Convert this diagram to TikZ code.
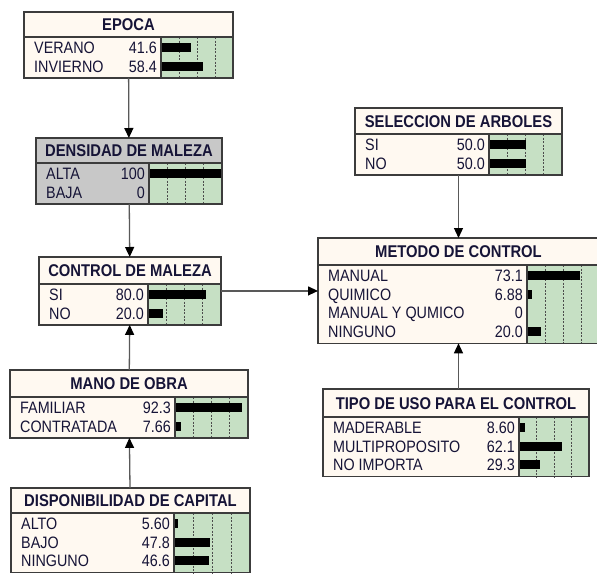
\documentclass[tikz,border=0pt]{standalone}
\usepackage{fontspec}
\setmainfont{Liberation Sans}[FakeStretch=0.87]
\usetikzlibrary{arrows.meta}

\definecolor{cream}{RGB}{255,249,241}
\definecolor{densgray}{RGB}{200,200,200}
\definecolor{bargreen}{RGB}{198,224,196}
\definecolor{framegray}{RGB}{60,60,60}
\definecolor{ink}{RGB}{22,20,55}

\tikzset{
  bnframe/.style={draw=framegray, line width=1.3pt},
  bntitle/.style={font=\fontsize{17}{19}\selectfont\bfseries, text=ink, inner sep=0pt},
  bnstate/.style={font=\fontsize{16.5}{18}\selectfont, text=ink, inner sep=0pt},
  bntick/.style={draw=black!70, line width=0.8pt, dash pattern=on 2pt off 1.5pt},
  bnlink/.style={draw=black!65, line width=1.3pt, -{Triangle[length=10pt,width=9pt,color=black]}},
}

% #1 fill, #2 name, #3 left, #4 top, #5 right, #6 bars start, #7 title height, #8 title, #9 states
\newcommand{\bnnode}[9][cream]{%
  \foreach \s [count=\n] in {#9} {\xdef\nstates{\n}}
  \pgfmathsetmacro{\tbot}{#4+#7}
  \pgfmathsetmacro{\bbot}{\tbot+18.7*\nstates+3.5}
  \pgfmathsetmacro{\bwid}{#5-#3}
  \pgfmathsetmacro{\bhei}{\bbot-#4}
  \fill[#1] (#3,#4) rectangle (#5,\bbot);
  \fill[bargreen] (#6,\tbot) rectangle (#5,\bbot);
  \foreach \t in {0.25,0.5,0.75}
    \draw[bntick] ({#6+(#5-#6)*\t},\tbot) -- ({#6+(#5-#6)*\t},\bbot);
  \foreach \lab/\val [count=\i] in {#9} {
    \pgfmathsetmacro{\yc}{\tbot+10.5+18.7*(\i-1)}
    \node[bnstate, anchor=base west] at ({#3+10},{\yc+5.8}) {\lab};
    \node[bnstate, anchor=base east] at ({#6-4},{\yc+5.8}) {\val};
    \fill ({#6},{\yc-4.5}) rectangle ({#6+(#5-#6)*\val/100},{\yc+4.5});
  }
  \node[bntitle, anchor=base] at ({(#3+#5)/2},{#4+#7/2+6.2}) {#8};
  \draw[bnframe] (#3,\tbot) -- (#5,\tbot) (#6,\tbot) -- (#6,\bbot);
  \node[bnframe, anchor=north west, outer sep=0pt, inner sep=0pt,
        minimum width=\bwid pt, minimum height=\bhei pt] (#2) at (#3,#4) {};
}

\begin{document}
\begin{tikzpicture}[x=1pt, y=-1pt]
\clip (0,0) rectangle (597,573);
\fill[white] (0,0) rectangle (597,573);

% Nodes
\bnnode{epoca}{24}{12}{233}{161}{25}{EPOCA}{VERANO/41.6, INVIERNO/58.4}
\bnnode[densgray]{densidad}{36}{138}{222}{149}{25}{DENSIDAD DE MALEZA}{ALTA/100, BAJA/0}
\bnnode{control}{39}{257}{221}{148}{27}{CONTROL DE MALEZA}{SI/80.0, NO/20.0}
\bnnode{mano}{10}{370}{248}{175}{27}{MANO DE OBRA}{FAMILIAR/92.3, CONTRATADA/7.66}
\bnnode{capital}{11}{488}{250}{174}{25}{DISPONIBILIDAD DE CAPITAL}{ALTO/5.60, BAJO/47.8, NINGUNO/46.6}
\bnnode{seleccion}{355}{108}{562}{489}{26}{SELECCION DE ARBOLES}{SI/50.0, NO/50.0}
\bnnode{metodo}{318}{238}{599}{527}{27}{METODO DE CONTROL}{MANUAL/73.1, QUIMICO/6.88, MANUAL Y QUMICO/0, NINGUNO/20.0}
\bnnode{tipo}{323}{389}{589}{519}{28}{TIPO DE USO PARA EL CONTROL}{MADERABLE/8.60, MULTIPROPOSITO/62.1, NO IMPORTA/29.3}

% Links
\draw[bnlink] (epoca) -- (densidad);
\draw[bnlink] (densidad) -- (control);
\draw[bnlink] (mano) -- (control);
\draw[bnlink] (capital) -- (mano);
\draw[bnlink] (control.east) -- (control.east -| metodo.west);
\draw[bnlink] (seleccion) -- (metodo);
\draw[bnlink] (tipo.north -| metodo.south) -- (metodo.south);

\end{tikzpicture}
\end{document}
